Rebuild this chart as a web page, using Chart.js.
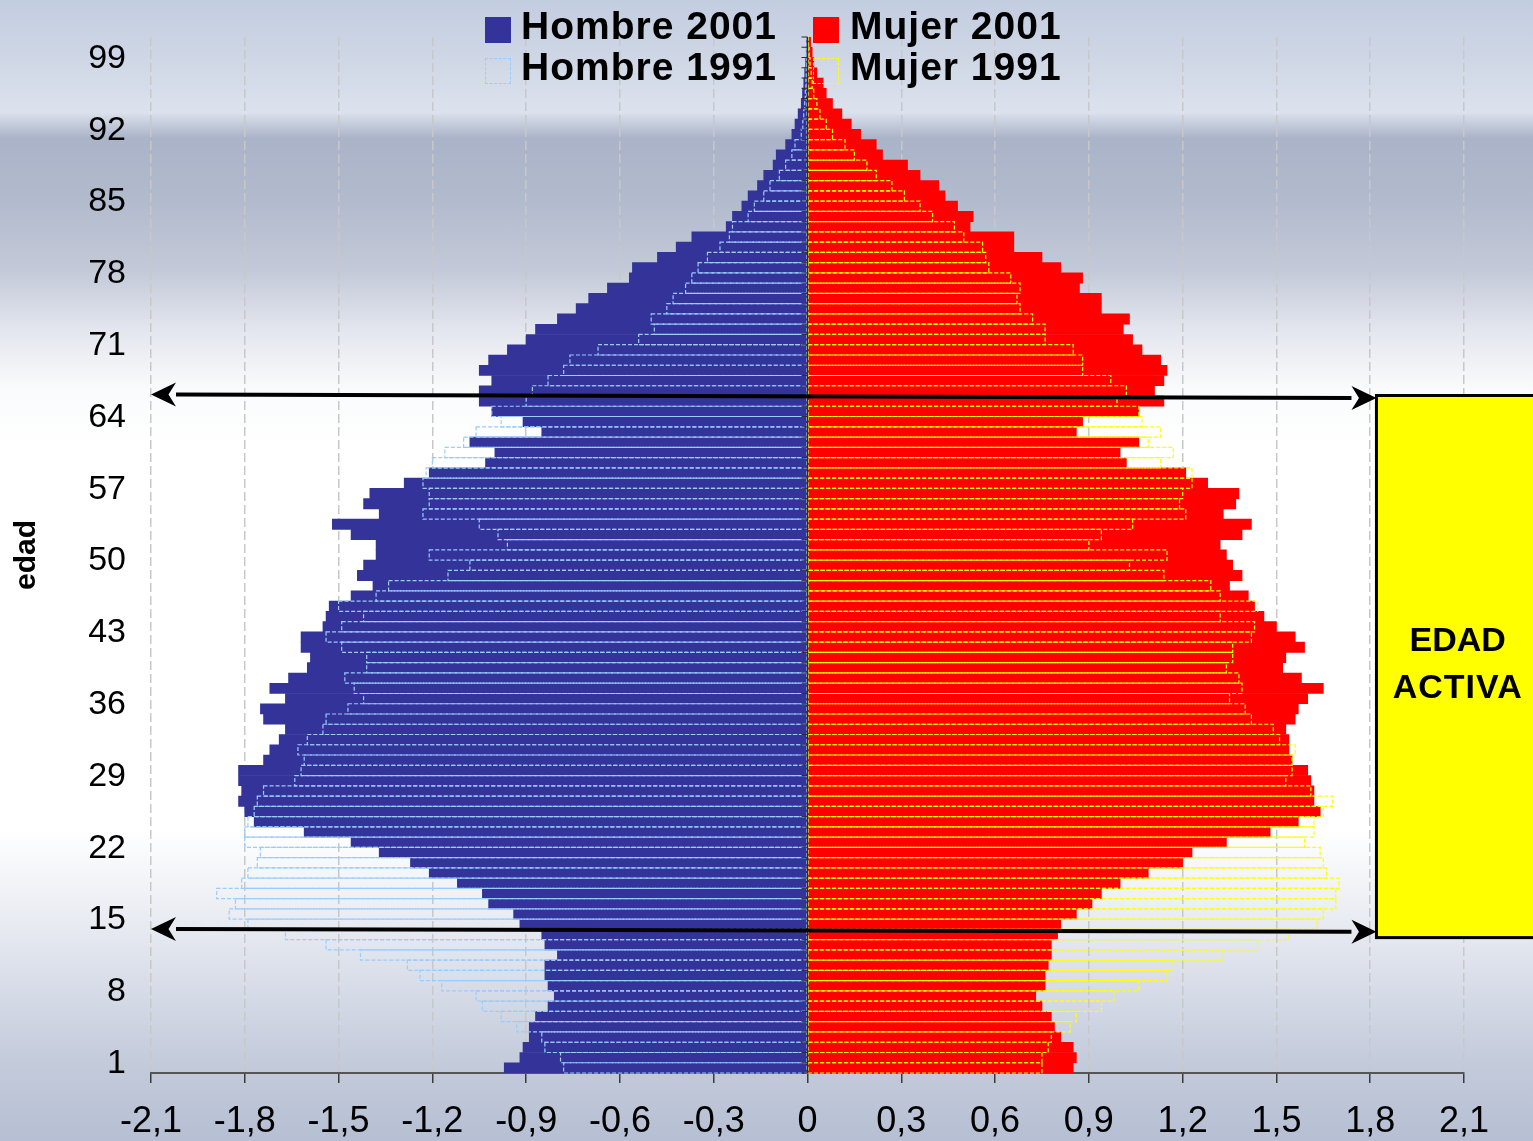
<!DOCTYPE html>
<html>
<head>
<meta charset="utf-8">
<script src="https://cdn.jsdelivr.net/npm/chart.js@4.4.0/dist/chart.umd.min.js"></script>
<style>
html,body{margin:0;padding:0;}
body{width:1533px;height:1141px;overflow:hidden;position:relative;font-family:'Liberation Sans',Arial,sans-serif;
background:linear-gradient(to bottom,#c3cde0 0px,#cfd7e6 60px,#dce2ed 112px,#aab3c8 138px,#b2bacd 200px,#c3c9d8 270px,#e3e6ee 330px,#fafbfc 390px,#ffffff 450px,#ffffff 830px,#eef0f5 900px,#d9dee9 980px,#c4cbdb 1060px,#b6bfd3 1141px);}
#c{position:absolute;left:0;top:0;}
.leg{position:absolute;font-weight:bold;font-size:39px;letter-spacing:1px;color:#000;line-height:40px;white-space:nowrap;}
.sw{position:absolute;width:26px;height:26px;box-sizing:border-box;}
</style>
</head>
<body>
<canvas id="c" width="1533" height="1141"></canvas>
<div class="sw" style="left:485px;top:17px;background:#333399"></div>
<div class="leg" style="left:521px;top:6px">Hombre 2001</div>
<div class="sw" style="left:813px;top:17px;background:#ff0000"></div>
<div class="leg" style="left:850px;top:6px">Mujer 2001</div>
<div class="sw" style="left:485px;top:58px;border:1.5px dashed #99ccff"></div>
<div class="leg" style="left:521px;top:47px">Hombre 1991</div>
<div class="sw" style="left:813px;top:58px;border:1.5px dashed #ffff00"></div>
<div class="leg" style="left:850px;top:47px">Mujer 1991</div>
<script>
// edades 0..100
const ages = Array.from({length:101},(_,i)=>String(i));
const tickAges = [1,8,15,22,29,36,43,50,57,64,71,78,85,92,99];
const xTicks = [-2.1,-1.8,-1.5,-1.2,-0.9,-0.6,-0.3,0,0.3,0.6,0.9,1.2,1.5,1.8,2.1];

const hombre2001 = [-0.97,-0.92,-0.91,-0.89,-0.89,-0.87,-0.83,-0.81,-0.83,-0.84,
-0.84,-0.80,-0.84,-0.85,-0.92,-0.94,-1.02,-1.04,-1.12,-1.21,
-1.27,-1.37,-1.46,-1.61,-1.77,-1.80,-1.82,-1.81,-1.82,-1.82,
-1.74,-1.72,-1.69,-1.67,-1.74,-1.75,-1.67,-1.72,-1.66,-1.60,
-1.59,-1.62,-1.62,-1.55,-1.54,-1.53,-1.46,-1.39,-1.44,-1.42,
-1.38,-1.38,-1.46,-1.52,-1.37,-1.42,-1.40,-1.29,-1.21,-1.03,
-1.00,-1.08,-0.85,-0.91,-1.01,-1.05,-1.05,-1.01,-1.05,-1.02,
-0.96,-0.90,-0.87,-0.80,-0.74,-0.70,-0.64,-0.57,-0.56,-0.48,
-0.42,-0.37,-0.26,-0.24,-0.21,-0.19,-0.16,-0.14,-0.11,-0.10,
-0.07,-0.05,-0.04,-0.03,-0.02,-0.016,-0.012,-0.009,-0.006,-0.004,
-0.003];

const mujer2001 = [0.85,0.86,0.85,0.81,0.79,0.78,0.75,0.73,0.76,0.76,
0.77,0.78,0.78,0.80,0.81,0.86,0.91,0.94,1.00,1.09,
1.20,1.23,1.34,1.48,1.57,1.64,1.62,1.62,1.61,1.60,
1.55,1.54,1.54,1.53,1.56,1.57,1.60,1.65,1.58,1.52,
1.53,1.59,1.56,1.50,1.46,1.43,1.41,1.35,1.39,1.36,
1.34,1.32,1.39,1.42,1.33,1.37,1.38,1.28,1.21,1.02,
1.00,1.06,0.86,0.88,1.06,1.14,1.11,1.14,1.15,1.13,
1.07,1.04,1.01,1.03,0.94,0.94,0.87,0.88,0.81,0.75,
0.66,0.66,0.52,0.53,0.48,0.44,0.42,0.36,0.32,0.24,
0.22,0.17,0.14,0.11,0.08,0.06,0.05,0.03,0.02,0.015,
0.01];

const hombre1991 = [-0.78,-0.79,-0.84,-0.85,-0.93,-0.98,-1.04,-1.06,-1.17,-1.24,
-1.28,-1.43,-1.54,-1.67,-1.79,-1.85,-1.83,-1.89,-1.81,-1.79,
-1.76,-1.75,-1.80,-1.80,-1.79,-1.77,-1.76,-1.74,-1.64,-1.62,
-1.61,-1.63,-1.60,-1.55,-1.54,-1.47,-1.42,-1.45,-1.48,-1.41,
-1.41,-1.49,-1.54,-1.49,-1.42,-1.50,-1.38,-1.34,-1.15,-1.08,
-1.21,-0.96,-0.99,-1.05,-1.23,-1.21,-1.21,-1.23,-1.22,-1.20,
-1.16,-1.10,-1.06,-0.98,-1.01,-0.90,-0.88,-0.83,-0.78,-0.76,
-0.67,-0.54,-0.49,-0.50,-0.45,-0.43,-0.39,-0.37,-0.35,-0.32,
-0.28,-0.25,-0.24,-0.19,-0.17,-0.14,-0.12,-0.09,-0.07,-0.05,
-0.04,-0.02,-0.015,-0.012,-0.009,-0.007,-0.005,-0.004,-0.003,-0.002,
-0.001];

const mujer1991 = [0.75,0.75,0.77,0.78,0.84,0.86,0.94,0.98,1.06,1.15,
1.17,1.33,1.44,1.54,1.63,1.65,1.69,1.69,1.70,1.66,
1.65,1.64,1.59,1.62,1.62,1.65,1.68,1.61,1.53,1.55,
1.55,1.56,1.51,1.49,1.42,1.40,1.35,1.39,1.38,1.34,
1.36,1.36,1.42,1.43,1.32,1.44,1.32,1.29,1.14,1.03,
1.15,0.90,0.94,1.04,1.21,1.19,1.20,1.23,1.23,1.13,
1.17,1.09,1.13,1.07,1.06,0.99,1.02,0.97,0.88,0.88,
0.85,0.76,0.76,0.72,0.68,0.67,0.68,0.65,0.58,0.57,
0.56,0.50,0.47,0.40,0.36,0.31,0.27,0.22,0.19,0.15,
0.12,0.08,0.06,0.04,0.03,0.02,0.015,0.012,0.008,0.005,
0.003];

const FONT = "'Liberation Sans', Arial, sans-serif";

function fmt(v){ return Math.abs(v)<1e-9 ? '0' : v.toFixed(1).replace('.',','); }

function arrow(ctx,x1,y1,x2,y2){
  const L=25,W=12;
  const ang=Math.atan2(y2-y1,x2-x1), c=Math.cos(ang), s=Math.sin(ang);
  ctx.beginPath();
  ctx.moveTo(x1+c*L,y1+s*L); ctx.lineTo(x2-c*L,y2-s*L);
  ctx.stroke();
  [[x1,y1,1],[x2,y2,-1]].forEach(([tx,ty,d])=>{
    ctx.beginPath();
    ctx.moveTo(tx,ty);
    ctx.lineTo(tx+d*c*L - s*W, ty+d*s*L + c*W);
    ctx.lineTo(tx+d*c*L*0.7, ty+d*s*L*0.7);
    ctx.lineTo(tx+d*c*L + s*W, ty+d*s*L - c*W);
    ctx.closePath(); ctx.fill();
  });
}

const extras = {
  id:'extras',
  afterDatasetsDraw(chart){
    const ctx=chart.ctx, xs=chart.scales.x, ys=chart.scales.y;
    // contornos 1991 discontinuos
    [2,3].forEach(di=>{
      const ds=chart.data.datasets[di], meta=chart.getDatasetMeta(di);
      ctx.save();
      ctx.strokeStyle=ds.outline; ctx.lineWidth=1.2; ctx.setLineDash([4,2]);
      meta.data.forEach(b=>{
        const p=b.getProps(['x','y','base','height'],true);
        ctx.strokeRect(Math.min(p.x,p.base), p.y-p.height/2, Math.abs(p.x-p.base), p.height);
      });
      ctx.restore();
    });
    // eje central
    const x0=xs.getPixelForValue(0);
    ctx.save();
    ctx.strokeStyle='#2a2a3a'; ctx.lineWidth=1.5;
    ctx.beginPath(); ctx.moveTo(x0,chart.chartArea.top); ctx.lineTo(x0,chart.chartArea.bottom); ctx.stroke();
    ctx.lineWidth=1;
    for(let i=0;i<=ages.length;i++){
      const y=ys.getPixelForValue(i-0.5);
      ctx.beginPath(); ctx.moveTo(x0-6,y); ctx.lineTo(x0,y); ctx.stroke();
    }
    ctx.restore();
    // caja EDAD ACTIVA
    const bx=xs.getPixelForValue(1.82), by1=ys.getPixelForValue(65.55), by2=ys.getPixelForValue(12.7);
    ctx.save();
    ctx.fillStyle='#ffff00'; ctx.fillRect(bx,by1,chart.width-bx+10,by2-by1);
    ctx.strokeStyle='#000'; ctx.lineWidth=3; ctx.strokeRect(bx,by1,chart.width-bx+10,by2-by1);
    ctx.fillStyle='#000'; ctx.font='bold 34px '+FONT; ctx.textAlign='center'; ctx.textBaseline='middle';
    const cx=(bx+chart.width)/2+3, cy=(by1+by2)/2;
    ctx.fillText('EDAD',cx,cy-25);
    ctx.letterSpacing='1px';
    ctx.fillText('ACTIVA',cx,cy+22);
    ctx.letterSpacing='0px';
    // flechas
    ctx.strokeStyle='#000'; ctx.fillStyle='#000'; ctx.lineWidth=4;
    arrow(ctx, xs.getPixelForValue(-2.1), ys.getPixelForValue(65.65), bx, ys.getPixelForValue(65.3));
    arrow(ctx, xs.getPixelForValue(-2.1), ys.getPixelForValue(13.55), bx, ys.getPixelForValue(13.26));
    ctx.restore();
  }
};

new Chart(document.getElementById('c'),{
  type:'bar',
  data:{
    labels:ages,
    datasets:[
      {label:'Hombre 2001', data:hombre2001, backgroundColor:'#333399'},
      {label:'Mujer 2001', data:mujer2001, backgroundColor:'#ff0000'},
      {label:'Hombre 1991', data:hombre1991, backgroundColor:'rgba(0,0,0,0)', outline:'#99ccff'},
      {label:'Mujer 1991', data:mujer1991, backgroundColor:'rgba(0,0,0,0)', outline:'#ffff00'}
    ]
  },
  options:{
    indexAxis:'y',
    responsive:false,
    animation:false,
    devicePixelRatio:1,
    layout:{padding:{top:37,right:69,left:0,bottom:0}},
    datasets:{bar:{grouped:false,barPercentage:1,categoryPercentage:1,borderWidth:0}},
    plugins:{legend:{display:false},tooltip:{enabled:false}},
    scales:{
      x:{
        type:'linear', min:-2.1, max:2.1,
        afterBuildTicks:s=>{ s.ticks=xTicks.map(v=>({value:v})); },
        afterFit:s=>{ s.height=68; s.paddingLeft=0; s.paddingRight=0; },
        grid:{color:'#c8c8c8', lineWidth:1.5, drawTicks:true, tickLength:10, tickColor:'#3a3a3a', tickWidth:1.5},
        border:{display:true, color:'#555555', width:2, dash:[9,4]},
        ticks:{color:'#000', padding:17, font:{size:36,family:FONT}, maxRotation:0, autoSkip:false,
          callback:v=>fmt(v)}
      },
      y:{
        type:'category', reverse:true, position:'left',
        afterFit:s=>{ s.width=151; s.paddingTop=0; s.paddingBottom=0; },
        grid:{display:false, drawTicks:false},
        border:{display:false},
        ticks:{autoSkip:false, color:'#000', padding:25, labelOffset:6, font:{size:34,family:FONT},
          callback:v=> tickAges.includes(+ages[v]) ? ages[v] : ''},
        title:{display:true, text:'edad', color:'#000', font:{size:30,weight:'bold',family:FONT}, padding:{top:9,bottom:0}}
      }
    }
  },
  plugins:[extras]
});
</script>
</body>
</html>
